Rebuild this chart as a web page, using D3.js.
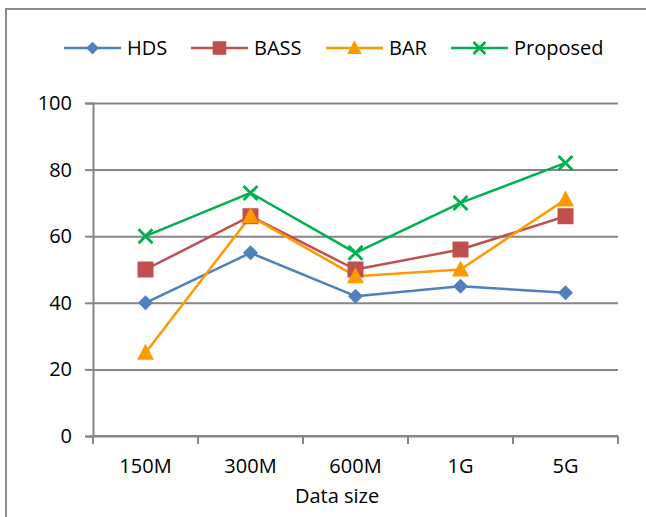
<!DOCTYPE html>
<html>
<head>
<meta charset="utf-8">
<script src="https://cdn.jsdelivr.net/npm/d3@7"></script>
<style>
  html, body { margin: 0; padding: 0; background: #fff; }
  svg text { font-family: "Open Sans", "Liberation Sans", sans-serif; fill: #000; }
</style>
</head>
<body>
<svg id="chart" width="646" height="517"></svg>
<script>
// Data sizes on the x axis
const categories = ["150M", "300M", "600M", "1G", "5G"];
// Series values
const hds      = [40, 55, 42, 45, 43];
const bass     = [50, 66, 50, 56, 66];
const bar      = [25, 66, 48, 50, 71];
const proposed = [60, 73, 55, 70, 82];
const yTicks   = [0, 20, 40, 60, 80, 100];
const xTitle   = "Data size";

const series = [
  { name: "HDS",      values: hds,      color: "#4F81BD", marker: "diamond" },
  { name: "BASS",     values: bass,     color: "#C0504D", marker: "square" },
  { name: "BAR",      values: bar,      color: "#FF9900", marker: "triangle" },
  { name: "Proposed", values: proposed, color: "#00B050", marker: "cross" }
];

const FONT = 20;
const svg = d3.select("#chart");
const plot = { left: 93, right: 618, top: 103, bottom: 436 };

// Outer chart frame
svg.append("rect")
  .attr("x", 6).attr("y", 9).attr("width", 660).attr("height", 530)
  .attr("fill", "none").attr("stroke", "#8c8c8c").attr("stroke-width", 2);

const x = d3.scaleBand().domain(categories).range([plot.left, plot.right]).padding(0);
const y = d3.scaleLinear().domain([0, 100]).range([plot.bottom, plot.top]);

// Horizontal gridlines + y axis
const yAxis = d3.axisLeft(y).tickValues(yTicks).tickSize(8).tickPadding(13);
const gy = svg.append("g").attr("transform", `translate(${plot.left},0)`).call(yAxis);
gy.select(".domain").attr("stroke", "#868686").attr("stroke-width", 2);
gy.selectAll(".tick line").attr("stroke", "#868686").attr("stroke-width", 2);
gy.selectAll(".tick text").attr("font-size", FONT).attr("font-family", "Open Sans, sans-serif");
gy.selectAll(".tick").append("line")
  .attr("x1", 0).attr("x2", plot.right - plot.left)
  .attr("stroke", "#868686").attr("stroke-width", 2);

// X axis with ticks at category boundaries
const boundaries = categories.map(c => x(c)).concat([plot.right]);
const gx = svg.append("g").attr("transform", `translate(0,${plot.bottom})`);
gx.append("line").attr("x1", plot.left).attr("x2", plot.right)
  .attr("stroke", "#868686").attr("stroke-width", 2);
gx.selectAll("line.tk").data(boundaries).join("line").attr("class", "tk")
  .attr("x1", d => d).attr("x2", d => d).attr("y1", 0).attr("y2", 8)
  .attr("stroke", "#868686").attr("stroke-width", 2);
gx.selectAll("text").data(categories).join("text")
  .attr("x", d => x(d) + x.bandwidth() / 2).attr("y", 37)
  .attr("text-anchor", "middle").attr("font-size", FONT).text(d => d);

svg.append("text").attr("x", 337).attr("y", 503)
  .attr("text-anchor", "middle").attr("font-size", FONT).text(xTitle);

// Marker drawing
function drawMarker(g, type, color, k = 1) {
  if (type === "diamond") {
    g.append("path").attr("d", `M0,${-7.5*k}L${7.5*k},0L0,${7.5*k}L${-7.5*k},0Z`).attr("fill", color);
  } else if (type === "square") {
    g.append("rect").attr("x", -8*k).attr("y", -8*k).attr("width", 16*k).attr("height", 16*k)
      .attr("fill", color);
  } else if (type === "triangle") {
    g.append("path").attr("d", `M0,${-9*k}L${8.5*k},${7*k}L${-8.5*k},${7*k}Z`).attr("fill", color);
  } else if (type === "cross") {
    const r = 7 * k;
    g.append("path").attr("d", `M${-r},${-r}L${r},${r}M${-r},${r}L${r},${-r}`)
      .attr("stroke", color).attr("stroke-width", 2.8).attr("fill", "none");
  }
}

const cx = d => x(d) + x.bandwidth() / 2;
const line = d3.line().x((v, i) => cx(categories[i])).y(v => y(v));

series.forEach(s => {
  svg.append("path").datum(s.values).attr("d", line)
    .attr("fill", "none").attr("stroke", s.color).attr("stroke-width", 2.5)
    .attr("stroke-linejoin", "round");
});
series.forEach(s => {
  s.values.forEach((v, i) => {
    const g = svg.append("g").attr("transform", `translate(${cx(categories[i])},${y(v)})`);
    drawMarker(g, s.marker, s.color);
  });
});

// Legend
const legendX = [64, 191, 326, 451];
series.forEach((s, i) => {
  const g = svg.append("g").attr("transform", `translate(${legendX[i]},48)`);
  g.append("line").attr("x1", 0).attr("x2", 57).attr("stroke", s.color).attr("stroke-width", 2.5);
  const m = g.append("g").attr("transform", "translate(28.5,0)");
  drawMarker(m, s.marker, s.color, 0.85);
  g.append("text").attr("x", 63).attr("y", 7).attr("font-size", FONT).text(s.name);
});
</script>
</body>
</html>
